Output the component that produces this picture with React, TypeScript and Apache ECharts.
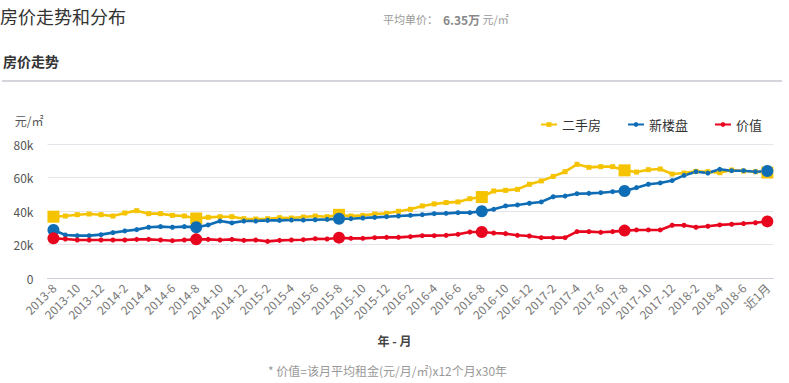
import React, { useEffect, useRef } from "react";
import * as echarts from "echarts";

const categories = [
  "2013-8","2013-9","2013-10","2013-11","2013-12",
  "2014-1","2014-2","2014-3","2014-4","2014-5","2014-6","2014-7","2014-8","2014-9","2014-10","2014-11","2014-12",
  "2015-1","2015-2","2015-3","2015-4","2015-5","2015-6","2015-7","2015-8","2015-9","2015-10","2015-11","2015-12",
  "2016-1","2016-2","2016-3","2016-4","2016-5","2016-6","2016-7","2016-8","2016-9","2016-10","2016-11","2016-12",
  "2017-1","2017-2","2017-3","2017-4","2017-5","2017-6","2017-7","2017-8","2017-9","2017-10","2017-11","2017-12",
  "2018-1","2018-2","2018-3","2018-4","2018-5","2018-6","2018-7","近1月",
];

const secondHand = [
  36.7, 37.1, 37.9, 38.3, 37.9, 37.1, 38.9, 40.3, 38.5, 38.5, 37.5, 37.1, 35.6,
  36.3, 36.7, 36.7, 35.5, 35.3, 35.5, 36.1, 35.9, 36.5, 37.1, 36.7, 37.8,
  37.1, 37.5, 38.3, 38.7, 39.9, 41.1, 43.1, 44.3, 45.1, 45.5, 47.4, 48.4,
  52.0, 52.4, 53.0, 56.0, 58.0, 60.7, 63.5, 67.9, 66.1, 66.5, 66.5, 64.3,
  63.3, 64.7, 65.1, 62.1, 62.7, 63.7, 63.5, 62.9, 64.5, 63.9, 63.5, 63.0,
];

const newHomes = [
  28.8, 25.8, 25.4, 25.4, 26.0, 27.2, 28.2, 29.0, 30.4, 30.8, 30.4, 30.8, 30.4,
  31.8, 34.1, 33.0, 34.1, 34.1, 34.5, 34.5, 34.7, 34.7, 34.9, 35.1, 35.5,
  35.5, 35.9, 36.3, 36.7, 37.1, 37.5, 37.9, 38.5, 38.7, 39.1, 39.1, 39.9,
  41.1, 43.1, 43.7, 44.7, 45.5, 48.6, 49.0, 50.4, 50.6, 51.0, 51.6, 52.0,
  54.0, 56.0, 56.8, 58.2, 61.3, 63.5, 62.7, 64.9, 64.1, 64.1, 63.5, 63.9,
];

const value = [
  23.8, 23.4, 22.8, 22.8, 22.8, 22.8, 22.8, 23.2, 23.2, 22.8, 22.4, 22.8, 23.2,
  23.2, 22.8, 23.2, 22.6, 22.8, 22.0, 22.6, 22.8, 23.0, 23.6, 23.4, 24.2,
  23.8, 23.8, 24.2, 24.4, 24.4, 24.8, 25.4, 25.4, 25.6, 26.2, 27.6, 27.6,
  27.0, 26.6, 25.6, 25.2, 24.2, 24.2, 24.2, 27.8, 27.8, 27.4, 27.8, 28.4,
  28.8, 28.8, 28.8, 31.6, 31.6, 30.4, 31.0, 31.8, 32.2, 32.6, 33.1, 33.9,
];

const yTicks = [0, 20000, 40000, 60000, 80000];

const FONT = "'Noto Sans CJK SC', 'Noto Sans', sans-serif";

export default function App() {
  const ref = useRef<HTMLDivElement>(null);

  useEffect(() => {
    if (!ref.current) return;
    const chart = echarts.init(ref.current, null, { renderer: "svg" });
    const last = categories.length - 1;
    const symSize = (_v: any, p: any) =>
      p.dataIndex % 12 === 0 || p.dataIndex === last ? 12 : 5;
    const toK = (arr: number[]) => arr.map((v) => Math.round(v * 1000));

    const mkSeries = (name: string, data: number[], color: string, symbol: string) => ({
      name,
      type: "line",
      data: toK(data),
      symbol,
      symbolSize: symSize,
      showAllSymbol: true,
      lineStyle: { width: 2.6, color },
      itemStyle: { color },
      z: 3,
    });

    chart.setOption({
      animation: false,
      textStyle: { fontFamily: FONT },
      grid: { left: 47.5, right: 15.7, top: 144, bottom: 104.7, containLabel: false },
      legend: {
        right: 22,
        top: 113,
        itemWidth: 16,
        itemHeight: 6,
        itemGap: 26,
        textStyle: { fontSize: 13, color: "#333", fontFamily: FONT },
        data: ["二手房", "新楼盘", "价值"],
      },
      xAxis: {
        type: "category",
        data: categories,
        boundaryGap: true,
        axisLine: { lineStyle: { color: "#ccd0dc" } },
        axisTick: { alignWithLabel: true, interval: 1, length: 5, lineStyle: { color: "#ccd0dc" } },
        axisLabel: {
          interval: 1,
          rotate: 45,
          fontSize: 12,
          color: "#777",
          margin: 7,
          fontFamily: FONT,
        },
      },
      yAxis: {
        type: "value",
        min: yTicks[0],
        max: yTicks[yTicks.length - 1],
        interval: yTicks[1] - yTicks[0],
        name: "元/㎡",
        nameLocation: "end",
        nameGap: 18,
        nameTextStyle: { fontSize: 12, color: "#555", align: "right", padding: [0, 4, 0, 0], fontFamily: FONT },
        axisLine: { show: false },
        axisTick: { show: false },
        splitLine: { lineStyle: { color: "#e4e4ea" } },
        axisLabel: {
          fontSize: 12,
          color: "#555",
          margin: 14,
          fontFamily: FONT,
          formatter: (v: number) => (v === 0 ? "0" : v / 1000 + "k"),
        },
      },
      graphic: [
        {
          type: "text",
          left: 0,
          top: 7,
          style: { text: "房价走势和分布", fontSize: 18, fill: "#333", fontFamily: FONT },
        },
        {
          type: "text",
          left: 383,
          top: 13,
          style: {
            text: "{a|平均单价：  }{b|6.35万}{a| 元/㎡}",
            fontFamily: FONT,
            rich: {
              a: { fontSize: 11, fill: "#999", fontFamily: FONT },
              b: { fontSize: 12, fill: "#888", fontWeight: "bold", fontFamily: FONT },
            },
          },
        },
        {
          type: "text",
          left: 3,
          top: 54,
          style: { text: "房价走势", fontSize: 14, fontWeight: "bold", fill: "#333", fontFamily: FONT },
        },
        {
          type: "rect",
          shape: { x: 2, y: 80, width: 780, height: 2 },
          style: { fill: "#d4d6dc" },
        },
        {
          type: "text",
          left: "center",
          top: 334,
          style: { text: "年 - 月", fontSize: 12, fontWeight: "bold", fill: "#444", fontFamily: FONT },
        },
        {
          type: "text",
          left: 268,
          top: 364,
          style: { text: "* 价值=该月平均租金(元/月/㎡)x12个月x30年", fontSize: 12, fill: "#999", fontFamily: FONT },
        },
      ],
      series: [
        mkSeries("二手房", secondHand, "#f5c300", "rect"),
        mkSeries("新楼盘", newHomes, "#0f6db6", "circle"),
        mkSeries("价值", value, "#e8061f", "circle"),
      ],
    });

    return () => chart.dispose();
  }, []);

  return (
    <div
      ref={ref}
      style={{ position: "fixed", left: 0, top: 0, width: 789, height: 383, background: "#fff" }}
    />
  );
}
